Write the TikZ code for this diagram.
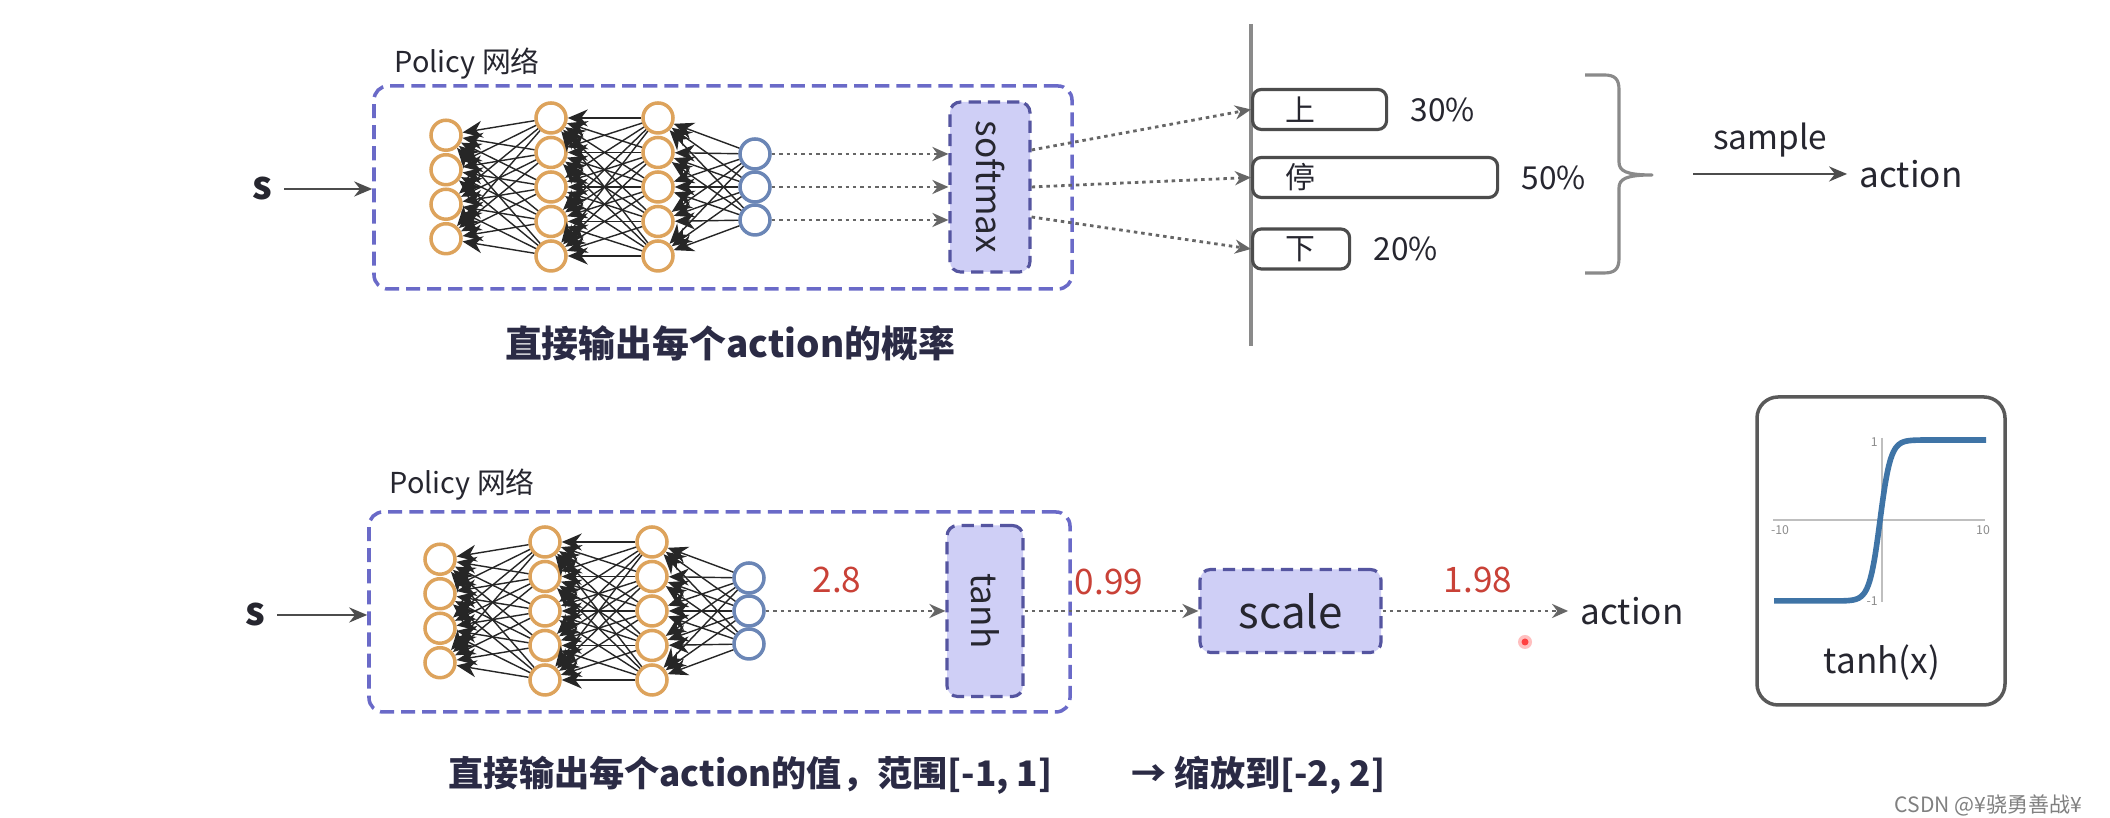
\documentclass[tikz,border=0pt]{standalone}
\usepackage{fontspec}
\setmainfont{Noto Sans CJK SC}
\usepackage{graphicx}
\usepackage{tikz}
\usetikzlibrary{arrows.meta,positioning,calc}
\definecolor{cA}{HTML}{26262F}
\definecolor{cO}{HTML}{DDA35C}
\definecolor{cB}{HTML}{6B86B6}
\definecolor{cP}{HTML}{6A6AC8}
\definecolor{cL}{HTML}{CFCFF6}
\definecolor{cR}{HTML}{C94137}
\definecolor{cG}{HTML}{8A8A8A}
\definecolor{cC}{HTML}{3F74A6}
\definecolor{cN}{HTML}{2B2B45}
\tikzset{
  neuron/.style={circle,draw=cO,line width=1pt,fill=white,minimum size=0.30cm,inner sep=0pt},
  oneuron/.style={circle,draw=cB,line width=1pt,fill=white,minimum size=0.30cm,inner sep=0pt},
  wire/.style={{Stealth[length=2mm,width=1.7mm]}-,line width=0.4pt,black!85},
  pbox/.style={draw=cP,line width=1pt,dash pattern=on 4pt off 2pt,rounded corners=4pt,inner sep=0pt},
  fnbox/.style={draw=cP!80!black,fill=cL,line width=0.9pt,dash pattern=on 3.5pt off 2pt,rounded corners=3pt,
    inner sep=0pt,text=cA,font=\fontsize{10}{12}\selectfont},
  plabel/.style={text=cA,font=\fontsize{8.2}{10}\selectfont},
  snode/.style={text=cA,font=\fontsize{11}{13}\selectfont\bfseries},
  txt/.style={text=cA,font=\fontsize{10}{12}\selectfont},
  num/.style={text=cR,font=\fontsize{10}{12}\selectfont},
  captxt/.style={text=cN,inner sep=0pt,font=\fontsize{10}{12}\selectfont\bfseries},
  bar/.style={draw=black!70,line width=0.9pt,fill=white,rounded corners=2.5pt,minimum height=0.40cm,inner sep=0pt},
  barch/.style={text=cA,font=\fontsize{8.5}{10}\selectfont},
  pct/.style={text=cA,font=\fontsize{9}{11}\selectfont},
  dotarr/.style={-{Stealth[length=1.6mm,width=1.4mm]},line width=0.8pt,dash pattern=on 1pt off 1.1pt,black!60},
  solarr/.style={-{Stealth[length=1.8mm,width=1.5mm]},line width=0.8pt,black!70},
  gline/.style={cG,line width=0.9pt},
  panel/.style={draw=black!65,line width=1pt,rounded corners=6pt,inner sep=0pt},
  axl/.style={black!25,line width=0.4pt},
  tick/.style={text=black!45,inner sep=1pt,font=\fontsize{3.5}{4}\selectfont},
}

\begin{document}
\begin{tikzpicture}
  \path[use as bounding box,fill=white] (0,0) rectangle (21.10,8.18);

  % policy boxes
  \node[pbox,minimum width=6.98cm,minimum height=2.03cm] (pb1) at (7.23,6.305) {};
  \node[plabel,anchor=south west] (pl1) at ([xshift=0.1cm,yshift=-0.07cm]pb1.north west) {Policy 网络};
  \node[pbox,minimum width=7.01cm,minimum height=2.00cm] (pb2) at (7.195,2.06) {};
  \node[plabel,anchor=south west] (pl2) at ([xshift=0.1cm,yshift=-0.02cm]pb2.north west) {Policy 网络};

  % the two nets
  \foreach \r/\xo/\yo in {t/4.46/6.31,b/4.40/2.07}{
    \foreach \l/\dx/\n in {1/0/4,2/1.05/5,3/2.12/5}
      \foreach \i in {1,...,\n}
        \node[neuron] (\r\l-\i) at ({\xo+\dx},{\yo+0.345*((\n+1)/2-\i)}) {};
    \foreach \i in {1,2,3}
      \node[oneuron] (\r4-\i) at ({\xo+3.09},{\yo+0.33*(2-\i)}) {};
    \foreach \l/\na/\nb in {1/4/5,2/5/5,3/5/3}{
      \pgfmathtruncatemacro{\m}{\l+1}
      \foreach \a in {1,...,\na}
        \foreach \b in {1,...,\nb}
          \draw[wire] (\r\l-\a) -- (\r\m-\b);
    }
  }

  % top: softmax
  \node[snode] (s1) at (2.62,6.29) {s};
  \draw[solarr] (s1) -- (s1 -| pb1.west);
  \node[fnbox,minimum width=0.80cm,minimum height=1.70cm] (sm) at (9.90,6.31) {\rotatebox{-90}{softmax}};
  \foreach \i in {1,2,3}
    \draw[dotarr] (t4-\i) -- (t4-\i -| sm.west);

  \draw[gline] (12.51,7.94) -- (12.51,4.72);
  \foreach \nm/\ch/\w/\y/\p in {up/上/1.34/7.085/30\%,st/停/2.45/6.405/50\%,dn/下/0.97/5.69/20\%}{
    \node[bar,minimum width=\w cm,anchor=west] (\nm) at (12.51,\y) {};
    \node[barch] (\nm-ch) at (13.00,\y) {\ch};
    \node[pct,right=0.1 of \nm] (\nm-p) {\p};
  }
  \draw[dotarr] ([yshift=0.37cm]sm.east) -- (up.west);
  \draw[dotarr] (sm.east) -- (st.west);
  \draw[dotarr] ([yshift=-0.30cm]sm.east) -- (dn.west);

  % bracket
  \draw[gline,line join=round] (15.85,7.43) -- (16.04,7.43)
    .. controls (16.15,7.43) and (16.19,7.39) .. (16.19,7.28) -- (16.19,6.56)
    .. controls (16.19,6.47) and (16.26,6.43) .. (16.52,6.43)
    .. controls (16.26,6.43) and (16.19,6.39) .. (16.19,6.30) -- (16.19,5.60)
    .. controls (16.19,5.49) and (16.15,5.45) .. (16.04,5.45) -- (15.85,5.45);
  \coordinate (smp) at (16.93,6.44);
  \node[txt] (act1) at (19.11,6.44) {action};
  \draw[solarr] (smp) -- (act1) node[midway,above=1pt,txt,font=\fontsize{9.5}{11}\selectfont] (lsmp) {sample};

  \node[captxt,font=\fontsize{10.5}{12}\selectfont\bfseries] (c1) at (7.30,4.75) {直接输出每个action的概率};

  % bottom: tanh + scale
  \node[snode] (s2) at (2.55,2.03) {s};
  \draw[solarr] (s2) -- (s2 -| pb2.west);
  \node[fnbox,minimum width=0.76cm,minimum height=1.71cm] (th) at (9.85,2.07) {\rotatebox{-90}{tanh}};
  \node[fnbox,minimum width=1.81cm,minimum height=0.83cm,font=\fontsize{12.5}{14}\selectfont] (sc) at (12.905,2.07) {scale};
  \node[txt] (act2) at (16.32,2.07) {action};
  \draw[dotarr] (b4-2) -- (th);
  \draw[dotarr] (th) -- (sc);
  \draw[dotarr] (sc) -- (sc -| act2.west);
  \node[num] (v1) at (8.37,2.38) {2.8};
  \node[num] (v2) at (11.09,2.36) {0.99};
  \node[num] (v3) at (14.78,2.38) {1.98};
  \fill[red!25] (15.25,1.76) circle (0.07);
  \fill[red!75] (15.25,1.76) circle (0.035);

  % tanh plot
  \node[panel,minimum width=2.48cm,minimum height=3.08cm] (tp) at (18.81,2.67) {};
  \draw[axl] (17.73,2.98) -- (19.85,2.98);
  \draw[axl] (18.82,3.80) -- (18.82,2.16);
  \draw[cC,line width=1.6pt,domain=-10:10,samples=81,smooth,variable=\x]
    plot ({18.80+0.106*\x},{2.975+0.805*tanh(max(-4,min(4,\x)))});
  \node[tick,anchor=east] (ty1) at (18.82,3.76) {1};
  \node[tick,anchor=east] (ty0) at (18.82,2.17) {-1};
  \node[tick] (tx0) at (17.80,2.88) {-10};
  \node[tick] (tx1) at (19.83,2.88) {10};
  \node[txt] (tl) at (18.82,1.55) {tanh(x)};

  \node[captxt,anchor=west] (c2) at (4.48,0.43) {直接输出每个action的值，范围[-1, 1]};
  \node[captxt,anchor=west] (c3) at (11.31,0.43) {→ 缩放到[-2, 2]};
  \node[text=black!50,anchor=east,font=\fontsize{6}{7}\selectfont] (wm) at (20.95,0.13) {CSDN @¥骁勇善战¥};
\end{tikzpicture}
\end{document}
